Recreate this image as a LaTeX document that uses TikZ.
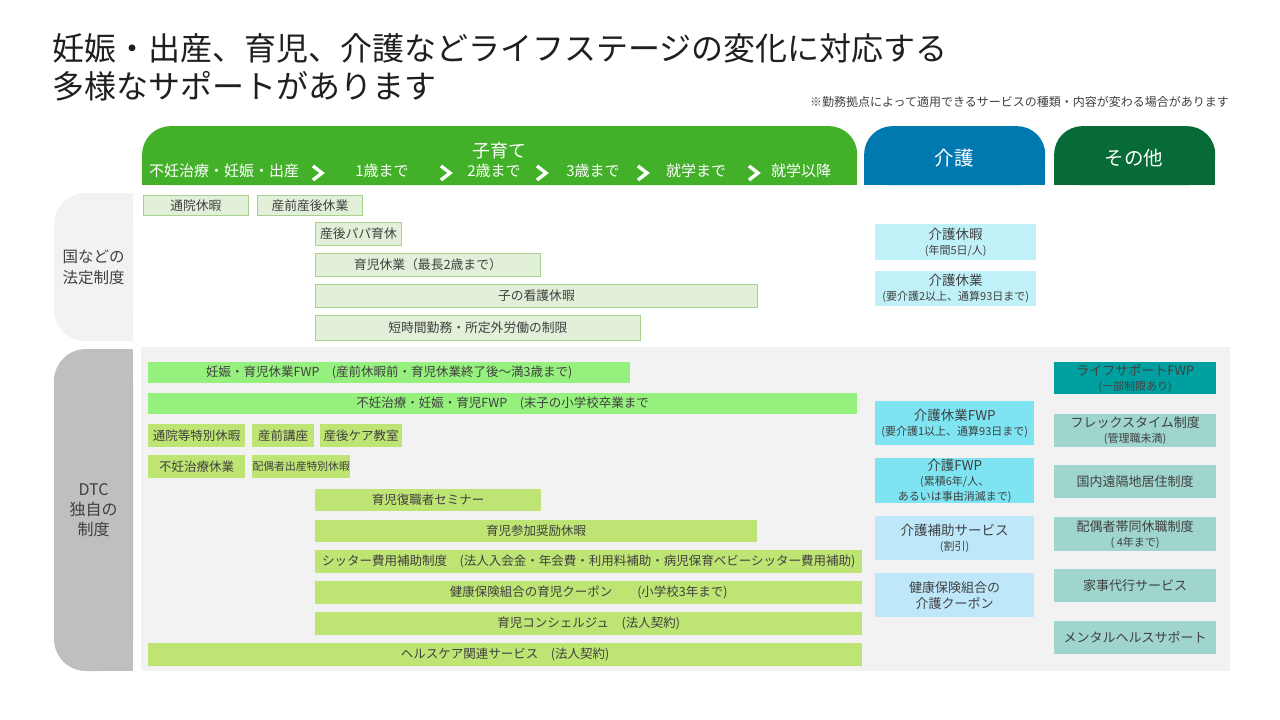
\documentclass[tikz,border=0pt]{standalone}
\usepackage{fontspec}
\setmainfont{Noto Sans CJK JP}
\usepackage{tikz}

\definecolor{ikuji}{HTML}{43B02A}
\definecolor{kaigo}{HTML}{0079B1}
\definecolor{sonota}{HTML}{066B37}
\definecolor{hoteifill}{HTML}{E2F0D9}
\definecolor{hoteiline}{HTML}{A9D18E}
\definecolor{hoteikaigo}{HTML}{C0F0F8}
\definecolor{fwpgreen}{HTML}{96F07D}
\definecolor{dtcgreen}{HTML}{BEE473}
\definecolor{kaigofwp}{HTML}{7EE4F2}
\definecolor{kaigosvc}{HTML}{BEE8FA}
\definecolor{lifeteal}{HTML}{00A0A0}
\definecolor{othteal}{HTML}{9FD5CC}
\definecolor{kunigray}{HTML}{F2F2F2}
\definecolor{dtcgray}{HTML}{BFBFBF}
\definecolor{txt}{HTML}{404040}
\definecolor{titletxt}{HTML}{1F1F1F}

\newcommand{\jfs}[2]{\fontsize{#1}{#2}\selectfont}
\newcommand{\subline}[1]{{\jfs{11}{13}#1}}

\begin{document}
\begin{tikzpicture}[x=1pt, y=-1pt,
		every node/.style={inner sep=0pt, text=txt},
		sz/.style 2 args={minimum width=#1pt, minimum height=#2pt},
		hoho/.style={draw=hoteiline, line width=0.8pt, fill=hoteifill, anchor=north west, font=\jfs{12.8}{15}},
		fwp/.style={fill=fwpgreen, anchor=north west, font=\jfs{12.5}{15}},
		dtc/.style={fill=dtcgreen, anchor=north west, font=\jfs{12.5}{15}},
		kbox/.style={anchor=north west, align=center, font=\jfs{13.5}{15}},
		obox/.style={fill=othteal, anchor=north west, align=center, font=\jfs{13}{15}},
		tab/.style={rounded corners=28pt, minimum height=59pt, anchor=north west},
		tablabel/.style={text=white, font=\jfs{19.5}{22}},
		stage/.style={text=white, font=\jfs{15}{17}},
		rowlabel/.style={rounded corners=32pt, align=center, font=\jfs{15.5}{21}},
		chev/.style={white, line width=3.4pt, line join=miter}]
	\useasboundingbox (0,0) rectangle (1280,720);
	\fill[white] (0,0) rectangle (1280,720);

	\node[anchor=west, text=titletxt, font=\jfs{32}{38}] (title1) at (52,48) {妊娠・出産、育児、介護などライフステージの変化に対応する};
	\node[anchor=west, text=titletxt, font=\jfs{32}{38}] (title2) at (52,86) {多様なサポートがあります};
	\node[anchor=east, font=\jfs{12}{14}] (note) at (1229,102) {※勤務拠点によって適用できるサービスの種類・内容が変わる場合があります};

	\fill[ikuji] (142,156) rectangle (857,185);
	\node[tab, fill=ikuji, sz={715}{59}] (tabikuji) at (142,126) {};
	\fill[kaigo] (864,156) rectangle (1045,185);
	\node[tab, fill=kaigo, sz={181}{59}] (tabkaigo) at (864,126) {};
	\fill[sonota] (1054,156) rectangle (1215,185);
	\node[tab, fill=sonota, sz={161}{59}] (tabsonota) at (1054,126) {};
	\node[text=white, font=\jfs{18}{20}] (kosodate) at (499,151) {子育て};
	\node[tablabel] (kaigolabel) at (954,158) {介護};
	\node[tablabel] (sonotalabel) at (1134,158) {その他};
	\node[stage, anchor=west] (st0) at (149,171) {不妊治療・妊娠・出産};
	\node[stage] (st1) at (382,171) {1歳まで};
	\node[stage] (st2) at (494,171) {2歳まで};
	\node[stage] (st3) at (593,171) {3歳まで};
	\node[stage] (st4) at (696,171) {就学まで};
	\node[stage] (st5) at (801,171) {就学以降};
	\foreach \cx in {318,446,542,643,754}
		\draw[chev] (\cx-5,166) -- (\cx+4,173) -- (\cx-5,180);

	\fill[kunigray] (94,193) rectangle (133,341);
	\node[rowlabel, fill=kunigray, sz={79}{148}] (kuni) at (93.5,267) {国などの\\法定制度};
	\fill[dtcgray] (94,349) rectangle (133,671);
	\node[rowlabel, fill=dtcgray, sz={79}{322}, font=\jfs{16}{20}] (dtclabel) at (93.5,510) {DTC\\独自の\\制度};
	\fill[kunigray] (141,347) rectangle (1230,671);

	\node[hoho, sz={105}{20}] (tsuin) at (143,195) {通院休暇};
	\node[hoho, sz={105}{20}] (sanzen) at (257,195) {産前産後休業};
	\node[hoho, sz={86}{23}] (papa) at (315,222) {産後パパ育休};
	\node[hoho, sz={225}{23}] (ikukyu) at (315,253) {育児休業（最長2歳まで）};
	\node[hoho, sz={442}{23}] (kango) at (315,284) {子の看護休暇};
	\node[hoho, sz={325}{25}] (tanjikan) at (315,315) {短時間勤務・所定外労働の制限};
	\node[kbox, fill=hoteikaigo, sz={161}{36}] (kaigokyuka) at (875,224) {介護休暇\\\subline{(年間5日/人)}};
	\node[kbox, fill=hoteikaigo, sz={161}{35}] (kaigokyugyo) at (875,271) {介護休業\\\subline{(要介護2以上、通算93日まで)}};

	\node[fwp, sz={482}{21}] (ninshinfwp) at (148,362) {妊娠・育児休業FWP　(産前休暇前・育児休業終了後～満3歳まで)};
	\node[fwp, sz={709}{21}] (funinfwp) at (148,393) {不妊治療・妊娠・育児FWP　(末子の小学校卒業まで};
	\node[dtc, sz={97}{23}] (tsuintoku) at (148,424) {通院等特別休暇};
	\node[dtc, sz={62}{23}] (sanzenkoza) at (252,424) {産前講座};
	\node[dtc, sz={82}{23}] (sangocare) at (320,424) {産後ケア教室};
	\node[dtc, sz={97}{23}] (funinkyu) at (148,455) {不妊治療休業};
	\node[dtc, sz={98}{23}, font=\jfs{10.8}{12}] (haigusha) at (252,455) {配偶者出産特別休暇};
	\node[dtc, sz={226}{22}] (fukushoku) at (315,489) {育児復職者セミナー};
	\node[dtc, sz={442}{22}] (sanka) at (315,520) {育児参加奨励休暇};
	\node[dtc, sz={547}{23}] (sitter) at (315,550) {シッター費用補助制度　(法人入会金・年会費・利用料補助・病児保育ベビーシッター費用補助)};
	\node[dtc, sz={547}{23}] (ikujicoupon) at (315,581) {健康保険組合の育児クーポン　　(小学校3年まで)};
	\node[dtc, sz={547}{23}] (concierge) at (315,612) {育児コンシェルジュ　(法人契約)};
	\node[dtc, sz={714}{23}] (healthcare) at (148,643) {ヘルスケア関連サービス　(法人契約)};

	\node[kbox, fill=kaigofwp, sz={159}{44}] (kaigofwpa) at (875,401) {介護休業FWP\\\subline{(要介護1以上、通算93日まで)}};
	\node[kbox, fill=kaigofwp, sz={159}{45}] (kaigofwpb) at (875,458) {介護FWP\\\subline{(累積6年/人、}\\\subline{あるいは事由消滅まで)}};
	\node[kbox, fill=kaigosvc, sz={159}{44}] (kaigohojo) at (875,516) {介護補助サービス\\\subline{(割引)}};
	\node[kbox, fill=kaigosvc, sz={159}{44}, font=\jfs{13}{16}] (kaigocoupon) at (875,573) {健康保険組合の\\介護クーポン};

	\node[obox, fill=lifeteal, sz={162}{32}] (lifesupport) at (1054,362) {ライフサポートFWP\\\subline{(一部制限あり)}};
	\node[obox, sz={162}{33}] (flex) at (1054,414) {フレックスタイム制度\\\subline{(管理職未満)}};
	\node[obox, sz={162}{33}] (enkaku) at (1054,465) {国内遠隔地居住制度};
	\node[obox, sz={162}{34}] (taido) at (1054,517) {配偶者帯同休職制度\\\subline{( 4年まで)}};
	\node[obox, sz={162}{33}] (kaji) at (1054,569) {家事代行サービス};
	\node[obox, sz={162}{33}] (mental) at (1054,621) {メンタルヘルスサポート};
\end{tikzpicture}
\end{document}
